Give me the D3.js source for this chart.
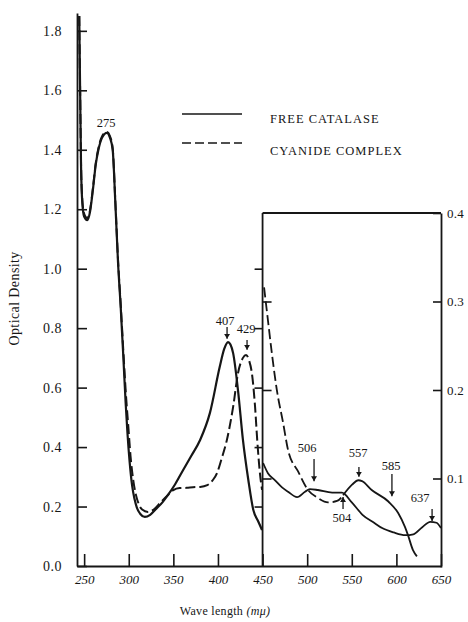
<!DOCTYPE html>
<html><head><meta charset="utf-8">
<script src="https://cdn.jsdelivr.net/npm/d3@7"></script>
<style>
html,body{margin:0;padding:0;background:#fff;}
svg{display:block;font-family:"Liberation Serif","Times New Roman",serif;}
</style></head><body>
<svg id="chart" width="468" height="622"></svg>
<script>
// ---------- data ----------
const seriesNames = ["FREE CATALASE", "CYANIDE COMPLEX"];
const xTicks = [250, 300, 350, 400, 450, 500, 550, 600, 650];
const yTicksMain = [0.0, 0.2, 0.4, 0.6, 0.8, 1.0, 1.2, 1.4, 1.6, 1.8];
const yTicksInset = [0.1, 0.2, 0.3, 0.4];
const yTicksBorderMain = [0.2, 0.4, 0.6, 0.8, 1.0];
const yTicksBorderInset = [0.1, 0.2, 0.3];

// main panel (left axis), 240-450 m\u03bc
const freeMainWl = [244.5,245.5,246.5,248,250,253.5,256.5,260,263,266,270,275.5,279,282,285,288,291,294,296.5,298.5,301,303.8,306.5,309,313,318,324,330,338,344,352,361,370,380,391,402,407,411.3,414,417,422.5,428,434,439.5,445.3,449.4];
const freeMainOD = [1.85,1.6,1.35,1.22,1.175,1.163,1.19,1.27,1.35,1.40,1.44,1.457,1.44,1.40,1.22,1.02,0.87,0.70,0.55,0.45,0.35,0.27,0.225,0.197,0.175,0.165,0.172,0.19,0.215,0.239,0.275,0.323,0.37,0.424,0.515,0.67,0.73,0.753,0.745,0.716,0.59,0.424,0.29,0.19,0.149,0.121];
const cyanMainWl = [244.5,245.5,246.5,248,250,253.5,256.5,260,263,266,270,275.5,279,282,285,288,291,294,297,299.5,302,305,308,311,315,321.5,328,336,344,350,357,365,372,380,388,394,399,404,410,417,422.5,428,431.5,435,438,441.6,444,447,449.4];
const cyanMainOD = [1.85,1.6,1.36,1.23,1.185,1.17,1.195,1.275,1.355,1.405,1.445,1.46,1.445,1.405,1.225,1.03,0.88,0.72,0.57,0.47,0.37,0.29,0.24,0.21,0.19,0.182,0.19,0.215,0.239,0.255,0.262,0.263,0.265,0.266,0.272,0.288,0.313,0.36,0.424,0.535,0.649,0.70,0.71,0.69,0.649,0.535,0.424,0.313,0.256];

// inset (right axis), 450-650 m\u03bc
const freeInsetWl = [450.6,456,464,471.8,478.6,488.7,497.6,503,512,528,539,550,562,575,584,597,610,619,629,638,645,650];
const freeInsetOD = [0.1175,0.106,0.098,0.090,0.085,0.079,0.085,0.088,0.087,0.084,0.084,0.073,0.059,0.050,0.044,0.039,0.036,0.037,0.045,0.051,0.050,0.044];
const cyanInsetWl = [451.7,456,460.6,466,473,478.6,489.8,501,512,523.4,533.5,540.2,550.3,557.4,561.5,572.3,591,602,609.7,613,618.6,623];
const cyanInsetOD = [0.316,0.279,0.24,0.20,0.163,0.132,0.108,0.087,0.078,0.073,0.0746,0.081,0.093,0.098,0.097,0.087,0.074,0.061,0.045,0.036,0.019,0.012];

// annotations: main panel
const mainLabels = ["275", "407", "429"];
const mainLabelWl = [274.6, 408, 431.5];
const mainLabelOD = [1.49, 0.824, 0.80];
const mainArrowWl = [null, 410.2, 432.6];
const mainArrowFrom = [null, 0.804, 0.760];
const mainArrowTo = [null, 0.764, 0.727];
// annotations: inset
const insetLabels = ["506", "557", "585", "637", "504"];
const insetLabelWl = [499.9, 557, 594, 626.5, 539];
const insetLabelOD = [0.1345, 0.129, 0.115, 0.078, 0.0554];
const insetArrowWl = [507.7, 558, 595, 640, 540.2];
const insetArrowFrom = [0.122, 0.113, 0.105, 0.0655, 0.0655];
const insetArrowTo = [0.097, 0.102, 0.080, 0.052, 0.079];

// ---------- drawing ----------
const ink = "#161616";
const svg = d3.select("#chart");

const x = d3.scaleLinear().domain([242, 650]).range([77, 441]);
const y = d3.scaleLinear().domain([0, 1.86]).range([566, 13]);
const yIn = d3.scaleLinear().domain([0, 0.4]).range([567, 213]);

svg.append("defs").append("marker")
  .attr("id", "arr").attr("markerUnits", "userSpaceOnUse")
  .attr("markerWidth", 6).attr("markerHeight", 6)
  .attr("refX", 5).attr("refY", 3).attr("orient", "auto")
  .append("path").attr("d", "M0,0L5,3L0,6Z").attr("fill", ink);

function styleAxis(g) {
  g.selectAll("path.domain").attr("stroke", ink).attr("stroke-width", 1.8);
  g.selectAll(".tick line").attr("stroke", ink).attr("stroke-width", 1.6);
  g.selectAll(".tick text").attr("fill", ink);
}

// left main axis
const gLeft = svg.append("g").attr("transform", `translate(${x(242)},0)`)
  .call(d3.axisLeft(y).tickValues(yTicksMain).tickSizeInner(-10).tickSizeOuter(0)
    .tickPadding(15).tickFormat(d3.format(".1f")));
styleAxis(gLeft);
gLeft.selectAll(".tick text").attr("font-size", 14).attr("letter-spacing", 0.5)
  .attr("font-family", "Liberation Serif");

// bottom axis
const gBottom = svg.append("g").attr("transform", `translate(0,${y(0)})`)
  .call(d3.axisBottom(x).tickValues(xTicks).tickSizeInner(-12).tickSizeOuter(0)
    .tickPadding(9).tickFormat(d3.format("d")));
styleAxis(gBottom);
gBottom.selectAll(".tick text").attr("font-size", 13).attr("font-style", "italic")
  .attr("font-family", "Liberation Serif");

// inset frame: top edge and left border at 450
svg.append("line").attr("x1", x(450)).attr("x2", x(650))
  .attr("y1", yIn(0.4)).attr("y2", yIn(0.4)).attr("stroke", ink).attr("stroke-width", 1.8);
svg.append("line").attr("x1", x(450)).attr("x2", x(450))
  .attr("y1", yIn(0.4)).attr("y2", y(0)).attr("stroke", ink).attr("stroke-width", 1.8);

// ticks on the 450 border
const gB1 = svg.append("g").attr("transform", `translate(${x(450)},0)`)
  .call(d3.axisLeft(y).tickValues(yTicksBorderMain).tickSize(8).tickFormat(""));
gB1.select("path.domain").remove();
styleAxis(gB1);
const gB2 = svg.append("g").attr("transform", `translate(${x(450)},0)`)
  .call(d3.axisRight(yIn).tickValues(yTicksBorderInset).tickSize(9).tickFormat(""));
gB2.select("path.domain").remove();
styleAxis(gB2);

// right inset axis
const gRight = svg.append("g").attr("transform", `translate(${x(650)},0)`)
  .call(d3.axisRight(yIn).tickValues(yTicksInset).tickSizeInner(-8).tickSizeOuter(0)
    .tickPadding(6).tickFormat(d3.format(".1f")));
styleAxis(gRight);
gRight.selectAll(".tick text").attr("font-size", 13).attr("letter-spacing", 0.3)
  .attr("font-family", "Liberation Serif");

// curves
const lineMain = d3.line().x(d => x(d[0])).y(d => y(d[1])).curve(d3.curveMonotoneX);
const lineIn = d3.line().x(d => x(d[0])).y(d => yIn(d[1])).curve(d3.curveMonotoneX);
const zip = (a, b) => a.map((v, i) => [v, b[i]]);
const dash = "10,4";

svg.append("path").datum(zip(cyanMainWl, cyanMainOD)).attr("d", lineMain)
  .attr("fill", "none").attr("stroke", ink).attr("stroke-width", 2).attr("stroke-dasharray", dash);
svg.append("path").datum(zip(freeMainWl, freeMainOD)).attr("d", lineMain)
  .attr("fill", "none").attr("stroke", ink).attr("stroke-width", 2.2);

const cyanIn = zip(cyanInsetWl, cyanInsetOD);
svg.append("path").datum(cyanIn.filter(d => d[0] <= 541)).attr("d", lineIn)
  .attr("fill", "none").attr("stroke", ink).attr("stroke-width", 1.8).attr("stroke-dasharray", dash);
svg.append("path").datum(cyanIn.filter(d => d[0] >= 540)).attr("d", lineIn)
  .attr("fill", "none").attr("stroke", ink).attr("stroke-width", 1.8);
svg.append("path").datum(zip(freeInsetWl, freeInsetOD)).attr("d", lineIn)
  .attr("fill", "none").attr("stroke", ink).attr("stroke-width", 1.8);

// annotations
function annotate(labels, lw, lv, aw, af, at, ys) {
  labels.forEach((t, i) => {
    svg.append("text").attr("x", x(lw[i])).attr("y", ys(lv[i])).attr("dy", "0.35em")
      .attr("text-anchor", "middle").attr("font-size", 12.5).attr("fill", ink).text(t);
    if (aw[i] != null) {
      svg.append("line").attr("x1", x(aw[i])).attr("x2", x(aw[i]))
        .attr("y1", ys(af[i])).attr("y2", ys(at[i]))
        .attr("stroke", ink).attr("stroke-width", 1.3).attr("marker-end", "url(#arr)");
    }
  });
}
annotate(mainLabels, mainLabelWl, mainLabelOD, mainArrowWl, mainArrowFrom, mainArrowTo, y);
annotate(insetLabels, insetLabelWl, insetLabelOD, insetArrowWl, insetArrowFrom, insetArrowTo, yIn);

// legend
const legend = svg.append("g");
seriesNames.forEach((name, i) => {
  const ly = 114 + i * 29;
  legend.append("line").attr("x1", 182).attr("x2", 242).attr("y1", ly).attr("y2", ly)
    .attr("stroke", ink).attr("stroke-width", 1.6)
    .attr("stroke-dasharray", i === 1 ? "9,4" : null);
  legend.append("text").attr("x", 270).attr("y", ly + 5 + i * 3).attr("dy", "0.35em")
    .attr("font-size", 12.5).attr("letter-spacing", 1).attr("fill", ink).text(name);
});

// axis titles
svg.append("text").attr("transform", `translate(19,${y(0.9)}) rotate(-90)`)
  .attr("text-anchor", "middle").attr("font-size", 14).attr("letter-spacing", 0.4)
  .attr("fill", ink).text("Optical Density");
const xt = svg.append("text").attr("x", x(408)).attr("y", 611).attr("dy", "0.35em")
  .attr("text-anchor", "middle").attr("font-size", 12).attr("letter-spacing", 0.3).attr("fill", ink);
xt.append("tspan").text("Wave length ");
xt.append("tspan").attr("font-style", "italic").text("(m\u03bc)");
</script>
</body></html>
